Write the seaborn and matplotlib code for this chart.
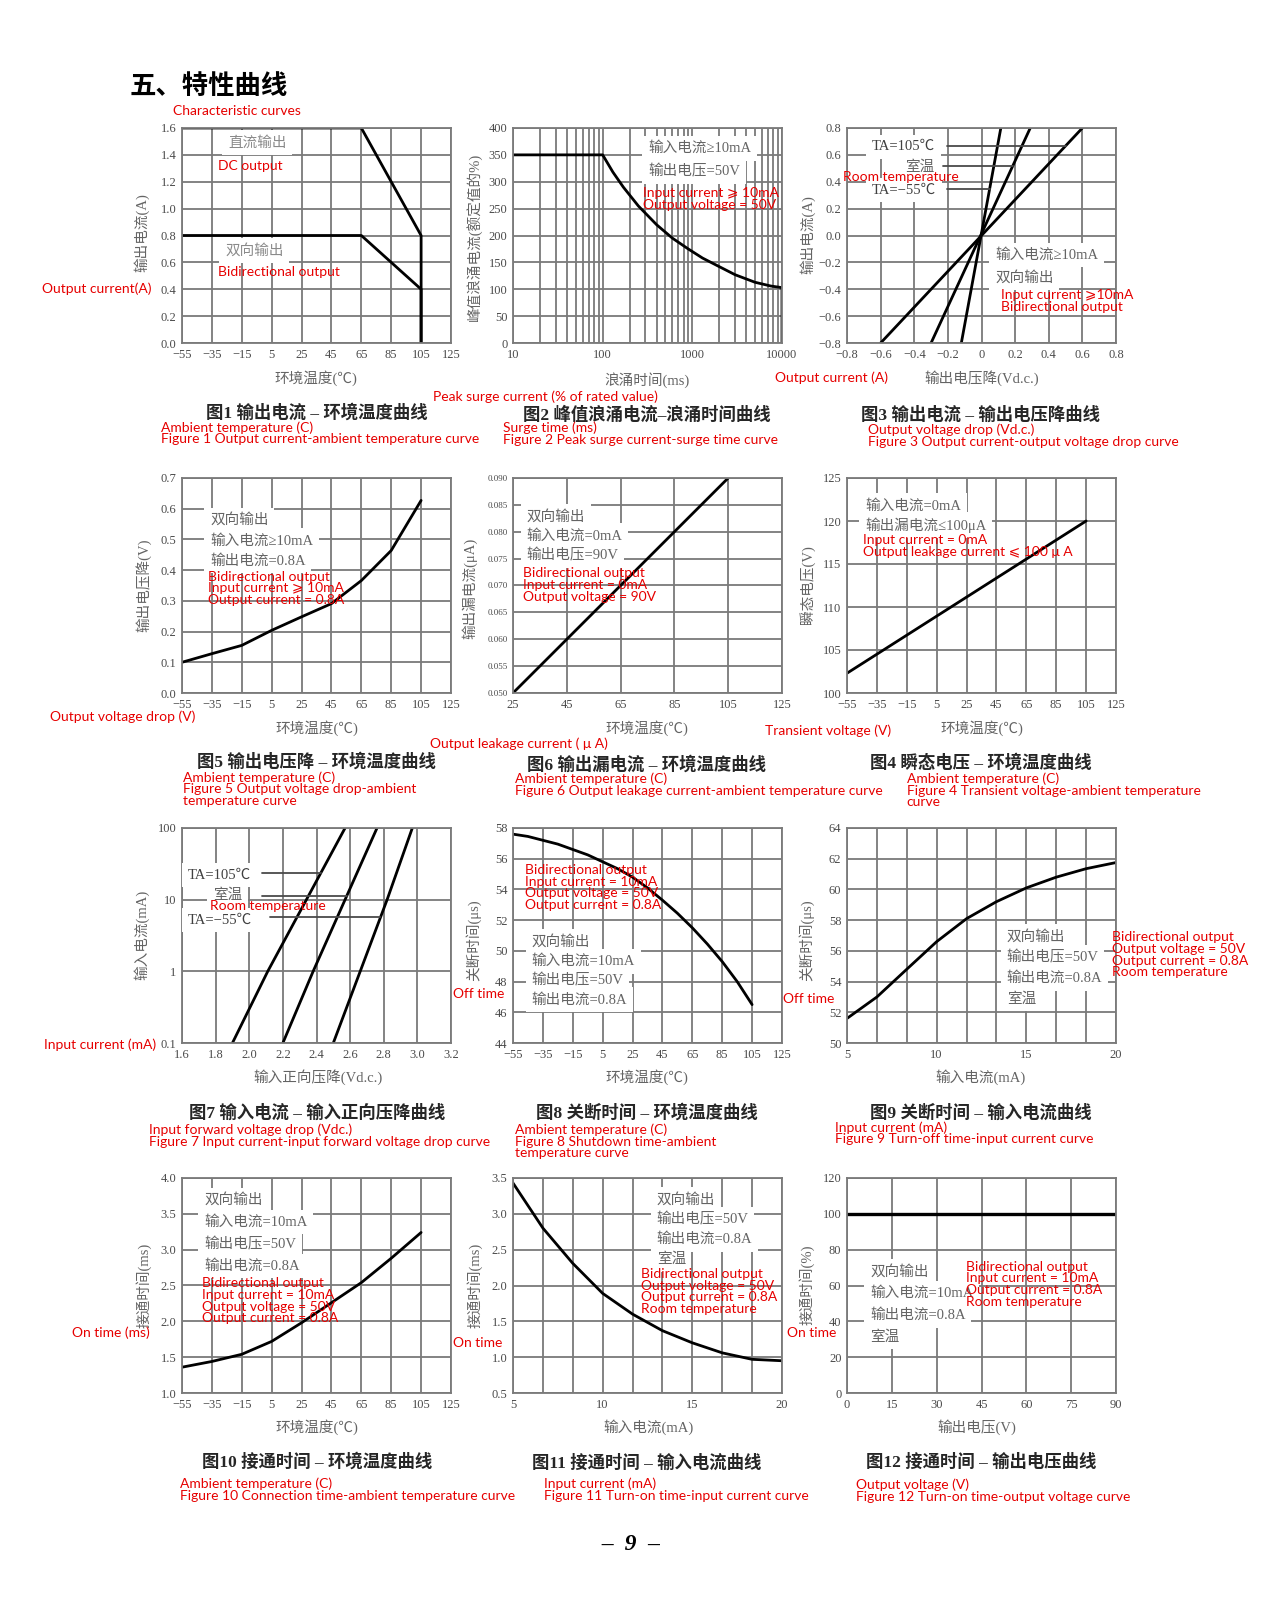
import matplotlib
matplotlib.use("Agg")
import matplotlib.pyplot as plt
from matplotlib.ticker import NullLocator, NullFormatter
import numpy as np
import seaborn as sns

# ---------------- data ----------------
temp_ticks = [-55, -35, -15, 5, 25, 45, 65, 85, 105, 125]
temp_labels = ["\u221255", "\u221235", "\u221215", "5", "25", "45", "65", "85", "105", "125"]

# Fig 1 output current vs ambient temperature
f1_temp = [-55, 65, 105, 105]
f1_dc = [1.6, 1.6, 0.8, 0.0]
f1_bi = [0.8, 0.8, 0.4, 0.0]
f1_yticks = [0.0, 0.2, 0.4, 0.6, 0.8, 1.0, 1.2, 1.4, 1.6]
f1_ylabels = ["0.0", "0.2", "0.4", "0.6", "0.8", "1.0", "1.2", "1.4", "1.6"]

# Fig 2 peak surge current vs surge time
f2_time = [10, 100, 130, 170, 250, 400, 600, 900, 1300, 2000, 3000, 5000, 7500, 10000, 10000]
f2_surge = [350, 350, 318, 290, 255, 220, 195, 175, 158, 142, 127, 113, 106, 103, 0]
f2_xticks = [10, 100, 1000, 10000]
f2_xlabels = ["10", "100", "1000", "10000"]
f2_yticks = [0, 50, 100, 150, 200, 250, 300, 350, 400]

# Fig 3 output current vs output voltage drop (three temperatures)
f3_current = [-0.8, 0.8]
f3_v_105 = [-0.6, 0.6]
f3_v_room = [-0.3, 0.29]
f3_v_m55 = [-0.12, 0.115]
f3_ticks = [-0.8, -0.6, -0.4, -0.2, 0.0, 0.2, 0.4, 0.6, 0.8]
f3_xlabels = ["\u22120.8", "\u22120.6", "\u22120.4", "\u22120.2", "0", "0.2", "0.4", "0.6", "0.8"]
f3_ylabels = ["\u22120.8", "\u22120.6", "\u22120.4", "\u22120.2", "0.0", "0.2", "0.4", "0.6", "0.8"]

# Fig 5 output voltage drop vs ambient temperature
f5_temp = [-55, -35, -15, 5, 25, 45, 65, 85, 105]
f5_drop = [0.10, 0.128, 0.155, 0.204, 0.248, 0.291, 0.366, 0.464, 0.627]
f5_yticks = [0.0, 0.1, 0.2, 0.3, 0.4, 0.5, 0.6, 0.7]
f5_ylabels = ["0.0", "0.1", "0.2", "0.3", "0.4", "0.5", "0.6", "0.7"]

# Fig 6 output leakage current vs ambient temperature
f6_temp = [25, 105]
f6_leak = [0.050, 0.090]
f6_xticks = [25, 45, 65, 85, 105, 125]
f6_yticks = [0.050, 0.055, 0.060, 0.065, 0.070, 0.075, 0.080, 0.085, 0.090]
f6_ylabels = ["0.050", "0.055", "0.060", "0.065", "0.070", "0.075", "0.080", "0.085", "0.090"]

# Fig 4 transient voltage vs ambient temperature
f4_temp = [-55, 105]
f4_volt = [102.3, 120.0]
f4_yticks = [100, 105, 110, 115, 120, 125]

# Fig 7 input current vs input forward voltage drop
f7_current = [0.1, 1, 10, 100]
f7_v_105 = [1.90, 2.11, 2.34, 2.57]
f7_v_room = [2.20, 2.38, 2.57, 2.76]
f7_v_m55 = [2.50, 2.66, 2.82, 2.97]
f7_xticks = [1.6, 1.8, 2.0, 2.2, 2.4, 2.6, 2.8, 3.0, 3.2]
f7_xlabels = ["1.6", "1.8", "2.0", "2.2", "2.4", "2.6", "2.8", "3.0", "3.2"]
f7_ylabels = ["0.1", "1", "10", "100"]

# Fig 8 turn-off time vs ambient temperature
f8_temp = [-55, -45, -35, -25, -15, -5, 5, 15, 25, 35, 45, 55, 65, 75, 85, 95, 105]
f8_off = [57.6, 57.45, 57.2, 56.95, 56.6, 56.25, 55.8, 55.35, 54.8, 54.1, 53.3,
          52.45, 51.5, 50.45, 49.3, 48.0, 46.5]
f8_yticks = [44, 46, 48, 50, 52, 54, 56, 58]

# Fig 9 turn-off time vs input current
f9_current = [5, 6.67, 8.33, 10, 11.67, 13.33, 15, 16.67, 18.33, 20]
f9_off = [51.6, 53.0, 54.8, 56.6, 58.1, 59.2, 60.1, 60.8, 61.35, 61.75]
f9_yticks = [50, 52, 54, 56, 58, 60, 62, 64]
cur_ticks = [5, 10, 15, 20]
cur_grid = [5, 6.67, 8.33, 10, 11.67, 13.33, 15, 16.67, 18.33, 20]

# Fig 10 turn-on time vs ambient temperature
f10_temp = [-55, -35, -15, 5, 25, 45, 65, 85, 105]
f10_on = [1.36, 1.44, 1.54, 1.72, 1.98, 2.26, 2.54, 2.88, 3.24]
f10_yticks = [1.0, 1.5, 2.0, 2.5, 3.0, 3.5, 4.0]
f10_ylabels = ["1.0", "1.5", "2.0", "2.5", "3.0", "3.5", "4.0"]

# Fig 11 turn-on time vs input current
f11_current = [5, 6.67, 8.33, 10, 11.67, 13.33, 15, 16.67, 18.33, 20]
f11_on = [3.43, 2.80, 2.31, 1.89, 1.60, 1.37, 1.20, 1.06, 0.97, 0.95]
f11_yticks = [0.5, 1.0, 1.5, 2.0, 2.5, 3.0, 3.5]
f11_ylabels = ["0.5", "1.0", "1.5", "2.0", "2.5", "3.0", "3.5"]

# Fig 12 turn-on time vs output voltage
f12_volt = [0, 90]
f12_on = [100, 100]
f12_xticks = [0, 15, 30, 45, 60, 75, 90]
f12_yticks = [0, 20, 40, 60, 80, 100, 120]

# ---------------- styling ----------------
sns.set_theme(style="white")
plt.rcParams["font.family"] = ["Liberation Serif", "Noto Sans CJK SC", "DejaVu Sans"]
plt.rcParams["axes.unicode_minus"] = True

RED = "#e60000"
RED_FONT = ["Lato", "DejaVu Sans"]
GRID = "#7a7a7a"
TICK = "#4a4a4a"
GRAYTXT = "#646464"
CAP = "#262626"

W, H = 1263, 1600
fig = plt.figure(figsize=(W / 100, H / 100), dpi=100)
fig.patch.set_facecolor("white")


def put(x, y, s, **kw):
    kw.setdefault("va", "center")
    return fig.text(x / W, 1 - y / H, s, **kw)


def red(x, y, lines, dy=11.7):
    for i, s in enumerate(lines):
        put(x, y + i * dy, s, color=RED, fontsize=10, family=RED_FONT,
            ha="left", zorder=6)


def gray(x, y, lines, dy=20, color=GRAYTXT):
    for i, s in enumerate(lines):
        put(x, y + i * dy, s, color=color, fontsize=10.5, ha="left", zorder=4,
            bbox=dict(facecolor="white", edgecolor="none", pad=4))


def labels(xl, yl, cap):
    put(xl[0], xl[1], xl[2], color=GRAYTXT, fontsize=10.5, ha="center")
    put(yl[0], yl[1], yl[2], color=GRAYTXT, fontsize=10.5, ha="center",
        rotation=90)
    put(cap[0], cap[1], cap[2], color=CAP, fontsize=12.5, ha="center",
        fontweight="bold")


COLS = [182, 513, 847]
ROWS = [128, 478, 828, 1178]
AW, AH = 269, 215


def make_ax(r, c):
    l, t = COLS[c], ROWS[r]
    return fig.add_axes([l / W, 1 - (t + AH) / H, AW / W, AH / H])


def style(ax, xlim, ylim, xticks, yticks, xlabels=None, ylabels=None, ysize=9):
    ax.set_xlim(*xlim)
    ax.set_ylim(*ylim)
    ax.set_xticks(xticks)
    ax.set_yticks(yticks)
    ax.set_xticklabels(xlabels if xlabels is not None else [str(v) for v in xticks])
    ax.set_yticklabels(ylabels if ylabels is not None else [str(v) for v in yticks])
    ax.grid(True, which="both", color=GRID, lw=1.3)
    ax.set_axisbelow(True)
    ax.tick_params(which="both", length=0, colors=TICK, pad=4)
    ax.tick_params(axis="x", labelsize=9)
    ax.tick_params(axis="y", labelsize=ysize)
    for s in ax.spines.values():
        s.set_visible(True)
        s.set_color(GRID)
        s.set_linewidth(1.3)
    ax.set_xlabel("")
    ax.set_ylabel("")


def curve(ax, x, y, lw=2.0):
    sns.lineplot(x=x, y=y, ax=ax, color="black", lw=lw, estimator=None,
                 sort=False, legend=False)


def leader(ax, x0, y, line_x, line_y, logy=False):
    # horizontal pointer from the label to the curve it names
    if logy:
        x1 = np.interp(np.log10(y), np.log10(line_y), line_x)
    else:
        x1 = np.interp(y, line_y, line_x)
    ax.plot([x0, x1], [y, y], color="#4a4a4a", lw=1.3)


# page title
put(130, 87, "五、特性曲线", color="black", fontsize=19, fontweight="bold", ha="left")
red(173, 110.7, ["Characteristic curves"])

# ---- Fig 1 ----
ax = make_ax(0, 0)
curve(ax, f1_temp, f1_dc)
curve(ax, f1_temp, f1_bi)
style(ax, (-55, 125), (0, 1.6), temp_ticks, f1_yticks, temp_labels, f1_ylabels)
gray(228, 142.7, ["直流输出"], color="#8a8a8a")
gray(225, 250.7, ["双向输出"], color="#8a8a8a")
red(217.7, 166, ["DC output"])
red(217.7, 271.7, ["Bidirectional output"])
red(41.7, 288.3, ["Output current(A)"])
labels((316, 378, "环境温度(℃)"), (141.7, 233, "输出电流(A)"),
       (317, 412.7, "图1 输出电流 – 环境温度曲线"))
red(161, 427.7, ["Ambient temperature (C)",
                 "Figure 1 Output current-ambient temperature curve"])

# ---- Fig 2 ----
ax = make_ax(0, 1)
ax.set_xscale("log")
curve(ax, f2_time, f2_surge)
style(ax, (10, 10000), (0, 400), f2_xticks, f2_yticks, f2_xlabels)
ax.xaxis.set_minor_formatter(NullFormatter())
gray(648, 148.3, ["输入电流≥10mA", "输出电压=50V"], dy=23.4)
red(643, 193.3, ["Input current \u2a7e 10mA", "Output voltage = 50V"])
red(433, 397, ["Peak surge current (% of rated value)"])
labels((647, 380, "浪涌时间(ms)"), (475, 236.7, "峰值浪涌电流(额定值的%)"),
       (647, 415, "图2 峰值浪涌电流–浪涌时间曲线"))
red(502.7, 428, ["Surge time (ms)", "Figure 2 Peak surge current-surge time curve"])

# ---- Fig 3 ----
ax = make_ax(0, 2)
curve(ax, f3_v_105, f3_current)
curve(ax, f3_v_room, f3_current)
curve(ax, f3_v_m55, f3_current)
style(ax, (-0.8, 0.8), (-0.8, 0.8), f3_ticks, f3_ticks, f3_xlabels, f3_ylabels)
leader(ax, -0.206, 0.668, f3_v_105, f3_current)
leader(ax, -0.228, 0.519, f3_v_room, f3_current)
leader(ax, -0.206, 0.346, f3_v_m55, f3_current)
gray(872, 146.7, ["TA=105℃"], color="#404040")
gray(905, 166.7, ["室温"])
gray(872, 190, ["TA=\u221255℃"], color="#404040")
red(843, 176.7, ["Room temperature"])
gray(995, 255, ["输入电流≥10mA", "双向输出"], dy=22.7)
red(1000.7, 295, ["Input current \u2a7e10mA", "Bidirectional output"])
red(775, 377.7, ["Output current (A)"])
labels((981.7, 378, "输出电压降(Vd.c.)"), (808, 235, "输出电流(A)"),
       (980.7, 415, "图3 输出电流 – 输出电压降曲线"))
red(868, 430, ["Output voltage drop (Vd.c.)",
               "Figure 3 Output current-output voltage drop curve"])

# ---- Fig 5 ----
ax = make_ax(1, 0)
curve(ax, f5_temp, f5_drop)
style(ax, (-55, 125), (0, 0.7), temp_ticks, f5_yticks, temp_labels, f5_ylabels)
gray(210, 520, ["双向输出", "输入电流≥10mA", "输出电流=0.8A"], dy=20.5)
red(208, 576.7, ["Bidirectional output", "Input current \u2a7e 10mA",
                 "Output current = 0.8A"])
red(50, 716.7, ["Output voltage drop (V)"])
labels((317, 728, "环境温度(℃)"), (143, 585, "输出电压降(V)"),
       (316.7, 761.7, "图5 输出电压降 – 环境温度曲线"))
red(182.7, 777.7, ["Ambient temperature (C)", "Figure 5 Output voltage drop-ambient",
                   "temperature curve"])

# ---- Fig 6 ----
ax = make_ax(1, 1)
curve(ax, f6_temp, f6_leak)
style(ax, (25, 125), (0.050, 0.090), f6_xticks, f6_yticks, None, f6_ylabels, ysize=6.5)
gray(526.7, 516.7, ["双向输出", "输入电流=0mA", "输出电压=90V"], dy=19.2)
red(523, 573.3, ["Bidirectional output", "Input current = 0mA", "Output voltage = 90V"])
red(430, 743.3, ["Output leakage current ( \u03bc A)"])
labels((647.3, 728, "环境温度(℃)"), (470, 588, "输出漏电流(μA)"),
       (646.7, 765, "图6 输出漏电流 – 环境温度曲线"))
red(515, 779, ["Ambient temperature (C)",
               "Figure 6 Output leakage current-ambient temperature curve"])

# ---- Fig 4 ----
ax = make_ax(1, 2)
curve(ax, f4_temp, f4_volt)
style(ax, (-55, 125), (100, 125), temp_ticks, f4_yticks, temp_labels)
gray(865, 505.7, ["输入电流=0mA", "输出漏电流≤100μA"], dy=19.3)
red(862.7, 540, ["Input current = 0mA", "Output leakage current \u2a7d 100 \u03bc A"])
red(765, 731, ["Transient voltage (V)"])
labels((981.7, 728.3, "环境温度(℃)"), (806.7, 585, "瞬态电压(V)"),
       (980.7, 763.3, "图4 瞬态电压 – 环境温度曲线"))
red(906.7, 779, ["Ambient temperature (C)",
                 "Figure 4 Transient voltage-ambient temperature", "curve"])

# ---- Fig 7 ----
ax = make_ax(2, 0)
ax.set_yscale("log")
curve(ax, f7_v_105, f7_current)
curve(ax, f7_v_room, f7_current)
curve(ax, f7_v_m55, f7_current)
style(ax, (1.6, 3.2), (0.1, 100), f7_xticks, f7_current, f7_xlabels, f7_ylabels)
ax.yaxis.set_minor_locator(NullLocator())
leader(ax, 2.076, 23.3, f7_v_105, f7_current, logy=True)
leader(ax, 2.076, 11.1, f7_v_room, f7_current, logy=True)
leader(ax, 2.125, 5.67, f7_v_m55, f7_current, logy=True)
gray(188, 875, ["TA=105℃"], color="#404040")
gray(213, 895, ["室温"])
gray(188, 920, ["TA=\u221255℃"], color="#404040")
red(210, 905.7, ["Room temperature"])
red(44, 1045, ["Input current (mA)"])
labels((318, 1076.7, "输入正向压降(Vd.c.)"), (141.7, 935, "输入电流(mA)"),
       (317, 1113, "图7 输入电流 – 输入正向压降曲线"))
red(149, 1130, ["Input forward voltage drop (Vdc.)",
                "Figure 7 Input current-input forward voltage drop curve"])

# ---- Fig 8 ----
ax = make_ax(2, 1)
curve(ax, f8_temp, f8_off)
style(ax, (-55, 125), (44, 58), temp_ticks, f8_yticks, temp_labels)
gray(531.7, 941.7, ["双向输出", "输入电流=10mA", "输出电压=50V", "输出电流=0.8A"], dy=19.4)
red(525, 870, ["Bidirectional output", "Input current = 10mA",
               "Output voltage = 50V", "Output current = 0.8A"])
red(453, 994.3, ["Off time"])
labels((646.7, 1076.7, "环境温度(℃)"), (473, 940, "关断时间(μs)"),
       (647, 1113, "图8 关断时间 – 环境温度曲线"))
red(515, 1130, ["Ambient temperature (C)", "Figure 8 Shutdown time-ambient",
                "temperature curve"])

# ---- Fig 9 ----
ax = make_ax(2, 2)
curve(ax, f9_current, f9_off)
style(ax, (5, 20), (50, 64), cur_ticks, f9_yticks)
ax.set_xticks(cur_grid, minor=True)
ax.grid(True, which="minor", axis="x", color=GRID, lw=1.3)
gray(1006.7, 936.7, ["双向输出", "输出电压=50V", "输出电流=0.8A", "室温"], dy=20.8)
red(1111.7, 937.3, ["Bidirectional output", "Output voltage = 50V",
                    "Output current = 0.8A", "Room temperature"])
red(783.3, 999.3, ["Off time"])
labels((980.7, 1076.7, "输入电流(mA)"), (806.7, 940, "关断时间(μs)"),
       (980.7, 1113, "图9 关断时间 – 输入电流曲线"))
red(835, 1127.3, ["Input current (mA)", "Figure 9 Turn-off time-input current curve"])

# ---- Fig 10 ----
ax = make_ax(3, 0)
curve(ax, f10_temp, f10_on)
style(ax, (-55, 125), (1.0, 4.0), temp_ticks, f10_yticks, temp_labels, f10_ylabels)
gray(204, 1200, ["双向输出", "输入电流=10mA", "输出电压=50V", "输出电流=0.8A"], dy=22)
red(201.7, 1283.3, ["Bidirectional output", "Input current = 10mA",
                    "Output voltage = 50V", "Output current = 0.8A"])
red(71.7, 1332.3, ["On time (ms)"])
labels((317.3, 1427.3, "环境温度(℃)"), (143.3, 1285, "接通时间(ms)"),
       (317, 1461.7, "图10 接通时间 – 环境温度曲线"))
red(180, 1484, ["Ambient temperature (C)",
                "Figure 10 Connection time-ambient temperature curve"])

# ---- Fig 11 ----
ax = make_ax(3, 1)
curve(ax, f11_current, f11_on)
style(ax, (5, 20), (0.5, 3.5), cur_ticks, f11_yticks, None, f11_ylabels)
ax.set_xticks(cur_grid, minor=True)
ax.grid(True, which="minor", axis="x", color=GRID, lw=1.3)
gray(656.7, 1199.3, ["双向输出", "输出电压=50V", "输出电流=0.8A", "室温"], dy=20)
red(641, 1274, ["Bidirectional output", "Output voltage = 50V",
                "Output current = 0.8A", "Room temperature"])
red(453, 1343.3, ["On time"])
labels((648.3, 1427.3, "输入电流(mA)"), (475, 1285, "接通时间(ms)"),
       (646.7, 1462.7, "图11 接通时间 – 输入电流曲线"))
red(544, 1484, ["Input current (mA)", "Figure 11 Turn-on time-input current curve"])

# ---- Fig 12 ----
ax = make_ax(3, 2)
curve(ax, f12_volt, f12_on, lw=2.4)
style(ax, (0, 90), (0, 120), f12_xticks, f12_yticks)
gray(870, 1271.7, ["双向输出", "输入电流=10mA", "输出电流=0.8A", "室温"], dy=21.7)
red(965.7, 1266.7, ["Bidirectional output", "Input current = 10mA",
                    "Output current = 0.8A", "Room temperature"])
red(786.7, 1333.3, ["On time"])
labels((977, 1427.3, "输出电压(V)"), (806.7, 1285, "接通时间(%)"),
       (980.7, 1462.7, "图12 接通时间 – 输出电压曲线"))
red(856, 1485, ["Output voltage (V)", "Figure 12 Turn-on time-output voltage curve"])

# page number
put(631, 1545, "\u2013  9  \u2013", color="black", fontsize=17, ha="center",
    fontweight="bold", style="italic")

fig.savefig("out.png", dpi=100, facecolor="white")
